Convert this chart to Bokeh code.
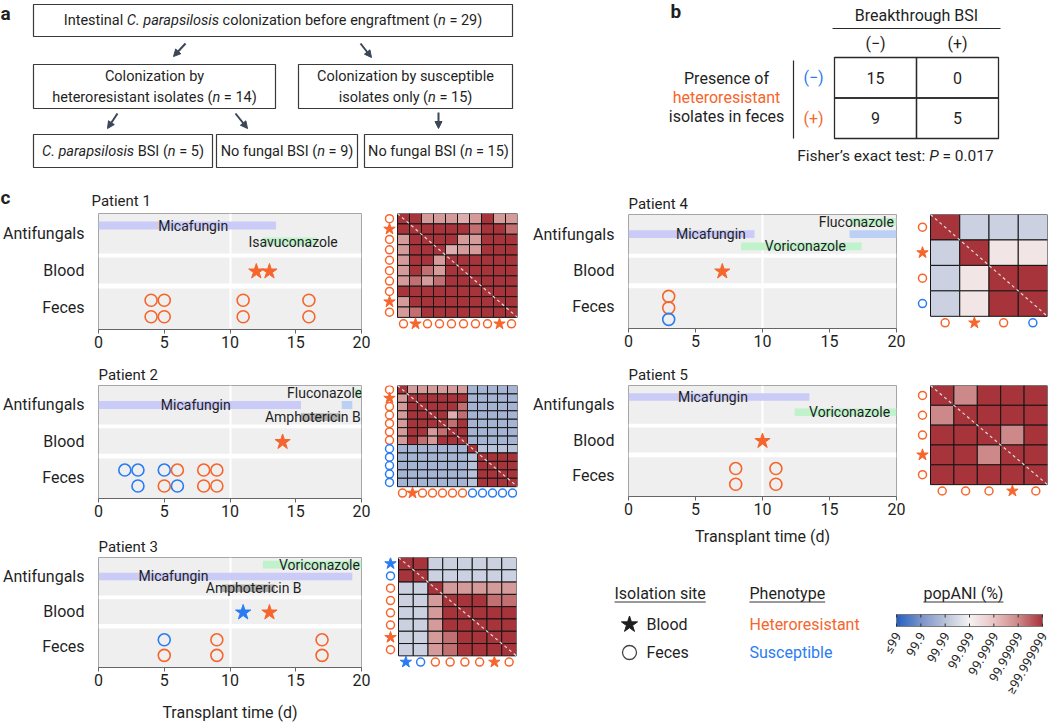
import glob, os, math
import numpy as np
from bokeh.plotting import figure
from bokeh.layouts import row, column
from bokeh.models import (Range1d, FixedTicker, LinearColorMapper, BoxAnnotation,
                          Arrow, NormalHead, ColumnDataSource)
from bokeh.core.properties import value
from bokeh.embed import file_html
from bokeh.resources import INLINE

FONT = "Roboto"
INK = "#1f1f1f"
ORANGE = "#f6652c"
BLUE = "#2a7cf3"
PHENO_COLOR = {"H": ORANGE, "S": BLUE}

# ======================= DATA =======================
# (a) cohort flow
n_colonized = 29
n_hetero = 14
n_susceptible_only = 15
n_hetero_bsi = 5
n_hetero_no_bsi = 9
n_susceptible_no_bsi = 15

# (b) contingency table
bsi_levels = ["(−)", "(+)"]
hetero_levels = ["(−)", "(+)"]
contingency = [[15, 0], [9, 5]]
fisher_p = "0.017"

# (c) timelines: antifungal courses (drug, start day, end day, lane top->bottom, day where name is written)
p1_af_drug = ["Micafungin", "Isavuconazole"]
p1_af_start = [0, 12.5]
p1_af_end = [13.5, 16.6]
p1_af_lane = [0, 1]
p1_af_label = [7.2, 14.8]

p2_af_drug = ["Fluconazole", "Micafungin", "Other", "Amphotericin B"]
p2_af_start = [19.5, 0, 18.5, 15.4]
p2_af_end = [20, 15.4, 19.3, 18.4]
p2_af_lane = [0, 1, 1, 2]
p2_af_label = [17.2, 7.4, None, 16.3]

p3_af_drug = ["Voriconazole", "Micafungin", "Amphotericin B"]
p3_af_start = [12.5, 0, 9.4]
p3_af_end = [20, 19.3, 13.4]
p3_af_lane = [0, 1, 2]
p3_af_label = [16.8, 5.7, 11.8]

p4_af_drug = ["Fluconazole", "Micafungin", "Other", "Voriconazole"]
p4_af_start = [16.5, 0, 16.5, 8.4]
p4_af_end = [20, 9.4, 20, 17.4]
p4_af_lane = [0, 1, 1, 2]
p4_af_label = [17.0, 6.15, None, 13.2]

p5_af_drug = ["Micafungin", "Voriconazole"]
p5_af_start = [0, 12.4]
p5_af_end = [13.5, 20]
p5_af_lane = [0, 1]
p5_af_label = [6.3, 16.5]

# isolates: day and phenotype (H heteroresistant, S susceptible)
p1_fec_day = [4, 4, 5, 5, 11, 11, 16, 16]
p1_fec_phe = ["H", "H", "H", "H", "H", "H", "H", "H"]
p1_bld_day = [12, 13]
p1_bld_phe = ["H", "H"]

p2_fec_day = [2, 3, 3, 5, 5, 6, 6, 8, 8, 9, 9]
p2_fec_phe = ["S", "S", "S", "S", "H", "H", "S", "H", "H", "H", "H"]
p2_bld_day = [14]
p2_bld_phe = ["H"]

p3_fec_day = [5, 5, 9, 9, 17, 17]
p3_fec_phe = ["S", "H", "H", "H", "H", "H"]
p3_bld_day = [11, 13]
p3_bld_phe = ["S", "H"]

p4_fec_day = [3, 3, 3]
p4_fec_phe = ["H", "H", "S"]
p4_bld_day = [7]
p4_bld_phe = ["H"]

p5_fec_day = [8, 8, 11, 11]
p5_fec_phe = ["H", "H", "H", "H"]
p5_bld_day = [10]
p5_bld_phe = ["H"]

# pairwise popANI (%) matrices, isolate order: site (F feces / B blood) and phenotype
D = 99.9999995   # >= 99.999999
M = 99.999995
Lp = 99.99999
L = 99.99998
Lb = 99.99996
W = 99.9995
B3 = 99.995
B2b = 99.99
B2 = 99.98

p1_iso_site = ["F", "B", "F", "F", "F", "F", "F", "F", "B", "F"]
p1_iso_phe = ["H", "H", "H", "H", "H", "H", "H", "H", "H", "H"]
p1_popani = [
    [D, D, L, L, L, Lb, L, D, L, L],
    [D, D, D, D, D, D, M, D, D, M],
    [L, D, D, D, D, L, L, D, D, D],
    [L, D, D, D, Lb, L, L, D, D, D],
    [L, D, D, L, D, D, D, D, D, D],
    [L, D, M, L, D, D, D, D, D, D],
    [L, M, L, M, D, D, D, D, D, D],
    [D, D, D, D, D, D, D, D, D, D],
    [L, D, D, D, D, D, D, D, D, D],
    [L, M, D, D, D, D, D, D, D, D],
]

p2_iso_site = ["F", "B", "F", "F", "F", "F", "F", "F", "F", "F", "F", "F"]
p2_iso_phe = ["H", "H", "H", "H", "H", "H", "H", "S", "S", "S", "S", "S"]
p2_popani = [
    [D, L, L, L, L, L, L, B2, B2, B2, B2, B2],
    [L, D, D, D, D, D, D, B2, B2, B2, B2, B2],
    [L, D, D, D, D, D, M, B2, B2, B2, B2, B2],
    [L, D, D, D, D, Lb, M, B2, B2, B2, B2, B2],
    [L, D, D, D, D, M, D, B2, B2, B2, B2, B2],
    [L, D, D, L, M, D, D, B2, B2, B2, B2, B2],
    [L, D, M, L, D, D, D, B2, B2, B2, B2, B2],
    [B2, B2, B2, B2, B2, B2, B2, D, B2b, B2b, B2b, B2b],
    [B2, B2, B2, B2, B2, B2, B2, B2b, D, D, D, D],
    [B2, B2, B2, B2, B2, B2, B2, B2b, D, D, D, D],
    [B2, B2, B2, B2, B2, B2, B2, B2b, D, D, D, D],
    [B2, B2, B2, B2, B2, B2, B2, B2b, D, D, D, D],
]

p3_iso_site = ["B", "F", "F", "F", "F", "F", "B", "F"]
p3_iso_phe = ["S", "S", "H", "H", "H", "H", "H", "H"]
p3_popani = [
    [D, D, B3, B3, B3, B3, B3, B3],
    [D, D, B3, B3, B3, B3, B3, B3],
    [B3, B3, D, L, L, L, L, L],
    [B3, B3, L, D, D, D, M, M],
    [B3, B3, L, D, D, D, D, D],
    [B3, B3, L, D, D, D, D, D],
    [B3, B3, L, M, D, D, D, D],
    [B3, B3, L, M, D, D, D, D],
]

p4_iso_site = ["F", "B", "F", "F"]
p4_iso_phe = ["H", "H", "H", "S"]
p4_popani = [
    [D, B3, B3, B3],
    [B3, D, W, W],
    [B3, W, D, D],
    [B3, W, D, D],
]

p5_iso_site = ["F", "F", "F", "B", "F"]
p5_iso_phe = ["H", "H", "H", "H", "H"]
p5_popani = [
    [D, Lp, D, D, D],
    [Lp, D, D, D, D],
    [D, D, D, Lp, D],
    [D, D, Lp, D, D],
    [D, D, D, D, D],
]

x_ticks = [0, 5, 10, 15, 20]
cb_levels = [0, 1, 2, 3, 4, 5, 6]
cb_labels = ["≤99", "99.9", "99.99", "99.999", "99.9999", "99.99999", "≥99.999999"]

# ======================= STYLE =======================
AF_COLOR = {"Micafungin": "#cacbf6", "Isavuconazole": "#c0f2cc", "Voriconazole": "#c0f2cc",
            "Fluconazole": "#c0f2cc", "Amphotericin B": "#b3b3b3", "Other": "#bcd0f6"}
CB_ANCHORS = ["#2660c2", "#7a94c9", "#b8c2d8", "#f5f3f3", "#e9c4c4", "#cd8a8a", "#a8343b"]


def make_palette(n=256):
    rgb = [tuple(int(c[i:i + 2], 16) for i in (1, 3, 5)) for c in CB_ANCHORS]
    out = []
    for t in np.linspace(0, len(rgb) - 1, n):
        k = min(int(t), len(rgb) - 2)
        f = t - k
        out.append("#%02x%02x%02x" % tuple(int(round(rgb[k][j] * (1 - f) + rgb[k + 1][j] * f)) for j in range(3)))
    return out


PALETTE = make_palette()
MAPPER = LinearColorMapper(palette=PALETTE, low=0, high=6)


def popani_level(v):
    return float(min(6.0, max(0.0, -math.log10(100.0 - v))))


# ---------- text measurement ----------
_FONT_FILES = []
for _d in ["/usr/share/fonts", "/usr/local/share/fonts",
           os.path.expanduser("~/.fonts"), os.path.expanduser("~/.local/share/fonts")]:
    if os.path.isdir(_d):
        for _ext in ("ttf", "otf", "TTF"):
            _FONT_FILES += glob.glob(os.path.join(_d, "**", "*." + _ext), recursive=True)


def _pick(prefixes):
    for pre in prefixes:
        c = sorted(f for f in _FONT_FILES if os.path.basename(f).startswith(pre))
        if c:
            return c[0]
    return None


_FONT_PATHS = {"normal": _pick(["Roboto-Regular.", "Roboto[", "Roboto-Regular"]),
               "italic": _pick(["Roboto-Italic.", "Roboto-Italic["]),
               "bold": _pick(["Roboto-Bold."])}
try:
    from PIL import ImageFont
except Exception:
    ImageFont = None
_cache = {}


def measure(text, size, style="normal"):
    path = _FONT_PATHS.get(style) or _FONT_PATHS.get("normal")
    if ImageFont is not None and path:
        key = (path, size)
        if key not in _cache:
            try:
                _cache[key] = ImageFont.truetype(path, int(round(size * 10)))
            except Exception:
                _cache[key] = None
        f = _cache[key]
        if f is not None:
            return f.getlength(text) / 10.0
    return 0.5 * size * len(text)


def put_text(p, x, y, text, size, color=INK, align="center", style="normal", baseline="middle"):
    p.text(x=[x], y=[y], text=[text], text_align=align, text_baseline=baseline,
           text_font=value(FONT), text_font_size=f"{size}px", text_font_style=style, text_color=color)


def rich_text(p, segs, x, y, size, color=INK):
    widths = [measure(s, size, st) for s, st in segs]
    x0 = x - sum(widths) / 2.0
    for (s, st), wd in zip(segs, widths):
        lead = len(s) - len(s.lstrip(" "))
        xs = x0 + (measure(" " * lead, size, st) if lead else 0)
        put_text(p, xs, y, s.strip(" "), size, color, align="left", style=st)
        x0 += wd


def blank_fig(w, h, xr, yr):
    return figure(width=w, height=h, x_range=xr, y_range=yr, x_axis_type=None, y_axis_type=None,
                  min_border=0, outline_line_color=None, output_backend="svg", toolbar_location=None)


# ======================= PANEL a =======================
pa = blank_fig(600, 185, Range1d(0, 600), Range1d(185, 0))
FLOW_BOXES = [(33, 4, 512, 36), (33, 64, 275, 108), (298, 64, 512, 108),
              (33, 134, 212, 167), (216, 134, 357, 167), (364, 134, 512, 167)]
pa.quad(left=[b[0] for b in FLOW_BOXES], right=[b[2] for b in FLOW_BOXES],
        top=[b[1] for b in FLOW_BOXES], bottom=[b[3] for b in FLOW_BOXES],
        fill_color=None, line_color="#3a3a3a", line_width=1.2)
N, I = "normal", "italic"
flow_text = [
    [[("Intestinal ", N), ("C. parapsilosis", I), (" colonization before engraftment (", N), ("n", I), (f" = {n_colonized})", N)]],
    [[("Colonization by", N)], [("heteroresistant isolates (", N), ("n", I), (f" = {n_hetero})", N)]],
    [[("Colonization by susceptible", N)], [("isolates only (", N), ("n", I), (f" = {n_susceptible_only})", N)]],
    [[("C. parapsilosis", I), (" BSI (", N), ("n", I), (f" = {n_hetero_bsi})", N)]],
    [[("No fungal BSI (", N), ("n", I), (f" = {n_hetero_no_bsi})", N)]],
    [[("No fungal BSI (", N), ("n", I), (f" = {n_susceptible_no_bsi})", N)]],
]
for box, lines in zip(FLOW_BOXES, flow_text):
    cx = (box[0] + box[2]) / 2.0
    cy = (box[1] + box[3]) / 2.0
    offs = [0] if len(lines) == 1 else [-10.5, 10.5]
    for segs, o in zip(lines, offs):
        rich_text(pa, segs, cx, cy + o, 14.5)
ARROW_C = "#3b4757"
for (x0, y0, x1, y1) in [(185, 43, 173, 56), (360, 43, 371, 57), (117, 113, 107, 128),
                         (235, 113, 247, 128), (438, 112, 438, 128)]:
    pa.add_layout(Arrow(end=NormalHead(size=7, fill_color=ARROW_C, line_color=ARROW_C),
                        x_start=x0, y_start=y0, x_end=x1, y_end=y1,
                        line_color=ARROW_C, line_width=2))
put_text(pa, 0, 13, "a", 19, align="left", style="bold")

# ======================= PANEL b =======================
pb = blank_fig(450, 185, Range1d(600, 1050), Range1d(185, 0))
TX0, TY0, CW, CH = 834, 57, 82, 40.5
cx_, cy_, ct_ = [], [], []
for i, rv in enumerate(contingency):
    for j, v in enumerate(rv):
        cx_.append(TX0 + (j + 0.5) * CW)
        cy_.append(TY0 + (i + 0.5) * CH)
        ct_.append(str(v))
pb.rect(x=cx_, y=cy_, width=CW, height=CH, fill_color=None, line_color="#2a2a2a", line_width=1.3)
pb.text(x=cx_, y=cy_, text=ct_, text_align="center", text_baseline="middle",
        text_font=value(FONT), text_font_size="16px", text_color=INK)
put_text(pb, TX0 + CW, 15, "Breakthrough BSI", 16)
pb.segment(x0=[TX0 - 2], y0=[28], x1=[TX0 + 2 * CW + 2], y1=[28], line_color="#2a2a2a", line_width=1.2)
for j, lab in enumerate(bsi_levels):
    put_text(pb, TX0 + (j + 0.5) * CW, 43, lab, 16)
for i, (lab, col) in enumerate(zip(hetero_levels, [BLUE, ORANGE])):
    put_text(pb, 813, TY0 + (i + 0.5) * CH, lab, 16, color=col)
pb.segment(x0=[793], y0=[60], x1=[793], y1=[TY0 + 2 * CH], line_color="#2a2a2a", line_width=1.2)
put_text(pb, 726, 78, "Presence of", 16)
put_text(pb, 726, 97, "heteroresistant", 16, color=ORANGE)
put_text(pb, 726, 116, "isolates in feces", 16)
rich_text(pb, [("Fisher’s exact test: ", N), ("P", I), (f" = {fisher_p}", N)], 895, 155, 15.5)
put_text(pb, 670, 11, "b", 19, align="left", style="bold")

# ======================= PANEL c =======================
ROWS = ["Feces", "Blood", "Antifungals"]
BANDS = [(0, 41), (46, 72), (76, 116)]
ROW_LABEL_Y = {"Feces": 22, "Blood": 59, "Antifungals": 96}


def lane_y(lane, n):
    gap = 16.0 if n <= 2 else 12.5
    return 96 + gap * ((n - 1) / 2.0 - lane)


def timeline(title, w, h, bl, br, bt, bb, af, fec_day, fec_phe, bld_day, bld_phe,
             xlabel=None, xlabel_standoff=0, title_standoff=4):
    af_drug, af_start, af_end, af_lane, af_label = af
    p = figure(width=w, height=h, x_range=Range1d(0, 20), y_range=Range1d(0, 116),
               output_backend="svg", toolbar_location=None,
               min_border_left=bl, min_border_right=br, min_border_top=bt, min_border_bottom=bb,
               background_fill_color="#efefef", outline_line_color="#a6a6a6", title=title)
    if p.title is not None:
        p.title.text_font = FONT
        p.title.text_font_size = "15px"
        p.title.text_font_style = "normal"
        p.title.text_color = INK
        p.title.align = "left"
        p.title.standoff = title_standoff
    xa = p.xaxis[0]
    xa.ticker = FixedTicker(ticks=x_ticks)
    xa.major_label_text_font = FONT
    xa.major_label_text_font_size = "16px"
    xa.major_label_text_color = INK
    xa.major_tick_out = 4
    xa.major_tick_in = 0
    xa.minor_tick_line_color = None
    xa.axis_line_color = "#666666"
    xa.major_tick_line_color = "#666666"
    xa.major_label_standoff = 2
    if xlabel:
        xa.axis_label = xlabel
        xa.axis_label_text_font = FONT
        xa.axis_label_text_font_size = "16px"
        xa.axis_label_text_font_style = "normal"
        xa.axis_label_text_color = INK
        xa.axis_label_standoff = xlabel_standoff
    ya = p.yaxis[0]
    ya.ticker = FixedTicker(ticks=[ROW_LABEL_Y[r] for r in ROWS])
    ya.major_label_overrides = {ROW_LABEL_Y[r]: r for r in ROWS}
    ya.major_label_text_font = FONT
    ya.major_label_text_font_size = "16px"
    ya.major_label_text_color = INK
    ya.major_tick_line_color = None
    ya.minor_tick_line_color = None
    ya.axis_line_color = None
    ya.major_label_standoff = 8
    p.ygrid.grid_line_color = None
    p.xgrid.ticker = FixedTicker(ticks=[10])
    p.xgrid.grid_line_color = "white"
    p.xgrid.grid_line_width = 2
    for (a0, a1), (b0, b1) in zip(BANDS[:-1], BANDS[1:]):
        p.add_layout(BoxAnnotation(bottom=a1, top=b0, fill_color="white", fill_alpha=1,
                                   line_color=None, level="underlay"))
    # antifungal courses
    n_lanes = max(af_lane) + 1
    ly = [lane_y(l, n_lanes) for l in af_lane]
    p.hbar(y=ly, left=af_start, right=af_end, height=8,
           fill_color=[AF_COLOR[d] for d in af_drug], line_color=None)
    lab = [(d, x, y) for d, x, y in zip(af_drug, af_label, ly) if x is not None]
    p.text(x=[t[1] for t in lab], y=[t[2] for t in lab], text=[t[0] for t in lab],
           text_align="center", text_baseline="middle", text_font=value(FONT),
           text_font_size="14px", text_color=INK)
    # feces isolates, stacked per day
    seen, ks = {}, []
    for d in fec_day:
        k = seen.get(d, 0)
        ks.append(k)
        seen[d] = k + 1
    nr = max(seen.values())
    gap = 41.0 / (nr + 0.5)
    fy = [21 + gap * ((nr - 1) / 2.0 - k) for k in ks]
    p.scatter(x=fec_day, y=fy, marker="circle", size=12, fill_color=None,
              line_color=[PHENO_COLOR[c] for c in fec_phe], line_width=1.6)
    cols = [PHENO_COLOR[c] for c in bld_phe]
    p.scatter(x=bld_day, y=[58] * len(bld_day), marker="star", size=16,
              fill_color=cols, line_color=cols)
    return p


def heatmap(fx, fy, w, h, hx, hy, size, sites, phes, mat):
    n = len(sites)
    c = size / float(n)
    ML, MB = 16, 14
    p = figure(width=w, height=h, x_range=Range1d(-ML / c, n), y_range=Range1d(n + MB / c, 0),
               x_axis_type=None, y_axis_type=None, output_backend="svg", toolbar_location=None,
               min_border_left=int(hx - ML - fx), min_border_right=int(fx + w - hx - size),
               min_border_top=int(hy - fy), min_border_bottom=int(fy + h - hy - size - MB),
               outline_line_color=None)
    xs, ys, lv = [], [], []
    for i, rv in enumerate(mat):
        for j, v in enumerate(rv):
            xs.append(j + 0.5)
            ys.append(i + 0.5)
            lv.append(popani_level(v))
    src = ColumnDataSource(dict(x=xs, y=ys, level=lv))
    p.rect(x="x", y="y", width=1, height=1, source=src,
           fill_color={"field": "level", "transform": MAPPER}, line_color="#151515", line_width=1)
    p.segment(x0=[0], y0=[0], x1=[n], y1=[n], line_color="#dcdcdc", line_dash="3 3", line_width=1.2)
    pos = [i + 0.5 for i in range(n)]
    for site in ("F", "B"):
        idx = [i for i, s in enumerate(sites) if s == site]
        if not idx:
            continue
        cl = [PHENO_COLOR[phes[i]] for i in idx]
        kw = (dict(marker="circle", size=8, fill_color=None, line_color=cl, line_width=1.5)
              if site == "F" else dict(marker="star", size=12, fill_color=cl, line_color=cl))
        p.scatter(x=[-8.0 / c] * len(idx), y=[pos[i] for i in idx], **kw)
        p.scatter(x=[pos[i] for i in idx], y=[n + 7.5 / c] * len(idx), **kw)
    return p


# header strip of panel c (panel letter + first patient title)
strip = blank_fig(530, 23, Range1d(0, 530), Range1d(208, 185))
put_text(strip, 0, 196.5, "c", 19, align="left", style="bold")
put_text(strip, 91, 200, "Patient 1", 15, align="left")

t1 = timeline(None, 375, 145, 91, 14, 5, 24,
              (p1_af_drug, p1_af_start, p1_af_end, p1_af_lane, p1_af_label),
              p1_fec_day, p1_fec_phe, p1_bld_day, p1_bld_phe)
t2 = timeline("Patient 2", 375, 170, 91, 14, 32, 25,
              (p2_af_drug, p2_af_start, p2_af_end, p2_af_lane, p2_af_label),
              p2_fec_day, p2_fec_phe, p2_bld_day, p2_bld_phe)
t3 = timeline("Patient 3", 375, 201, 91, 14, 34, 53,
              (p3_af_drug, p3_af_start, p3_af_end, p3_af_lane, p3_af_label),
              p3_fec_day, p3_fec_phe, p3_bld_day, p3_bld_phe,
              xlabel="Transplant time (d)", xlabel_standoff=14)
t4 = timeline("Patient 4", 376, 168, 95, 10, 29, 25,
              (p4_af_drug, p4_af_start, p4_af_end, p4_af_lane, p4_af_label),
              p4_fec_day, p4_fec_phe, p4_bld_day, p4_bld_phe)
t5 = timeline("Patient 5", 376, 195, 95, 10, 32, 49,
              (p5_af_drug, p5_af_start, p5_af_end, p5_af_lane, p5_af_label),
              p5_fec_day, p5_fec_phe, p5_bld_day, p5_bld_phe,
              xlabel="Transplant time (d)", xlabel_standoff=9)

h1 = heatmap(375, 208, 155, 145, 397, 212, 120, p1_iso_site, p1_iso_phe, p1_popani)
h2 = heatmap(375, 353, 155, 170, 397, 383, 120, p2_iso_site, p2_iso_phe, p2_popani)
h3 = heatmap(375, 523, 155, 201, 398, 554, 118, p3_iso_site, p3_iso_phe, p3_popani)
h4 = heatmap(906, 185, 144, 168, 930, 213, 117, p4_iso_site, p4_iso_phe, p4_popani)
h5 = heatmap(906, 353, 144, 195, 930, 384, 117, p5_iso_site, p5_iso_phe, p5_popani)

# ======================= LEGEND =======================
lg = blank_fig(350, 176, Range1d(530, 880), Range1d(724, 548))
for head, x in [("Isolation site", 614), ("Phenotype", 749)]:
    put_text(lg, x, 593, head, 16, align="left")
    lg.segment(x0=[x], y0=[601.5], x1=[x + measure(head, 16)], y1=[601.5], line_color="#333333", line_width=1)
lg.scatter(x=[629], y=[624], marker="star", size=17, fill_color=INK, line_color=INK)
lg.scatter(x=[629], y=[652], marker="circle", size=14, fill_color=None, line_color="#444444", line_width=1.3)
lg.text(x=[646, 646], y=[624, 652], text=["Blood", "Feces"], text_align="left", text_baseline="middle",
        text_font=value(FONT), text_font_size="16px", text_color=INK)
lg.text(x=[749, 749], y=[624, 652], text=["Heteroresistant", "Susceptible"], text_align="left",
        text_baseline="middle", text_font=value(FONT), text_font_size="16px", text_color=[ORANGE, BLUE])

CB_PX = (1042 - 896) / 6.0
cb = blank_fig(170, 176, Range1d((880 - 896) / CB_PX, (1050 - 896) / CB_PX), Range1d(724, 548))
put_text(cb, 2.75, 593, "popANI (%)", 16)
hw = measure("popANI (%)", 16) / CB_PX
cb.segment(x0=[2.75 - hw / 2], y0=[601.5], x1=[2.75 + hw / 2], y1=[601.5], line_color="#333333", line_width=1)
grad = np.linspace(cb_levels[0], cb_levels[-1], 300).reshape(1, -1)
cb.image(image=[grad], x=cb_levels[0], y=614, dw=cb_levels[-1] - cb_levels[0], dh=12, color_mapper=MAPPER)
cb.quad(left=[cb_levels[0]], right=[cb_levels[-1]], top=[614], bottom=[626], fill_color=None,
        line_color="#7a7a7a", line_width=1)
cb.segment(x0=cb_levels, y0=[614] * len(cb_levels), x1=cb_levels, y1=[617] * len(cb_levels),
           line_color="#333333", line_width=1)
cb.segment(x0=cb_levels, y0=[623] * len(cb_levels), x1=cb_levels, y1=[626] * len(cb_levels),
           line_color="#333333", line_width=1)
cb.text(x=[v + 0.06 for v in cb_levels], y=[633] * len(cb_levels), text=cb_labels,
        angle=math.radians(60), text_align="right", text_baseline="middle",
        text_font=value(FONT), text_font_size="13px", text_color=INK)

# ======================= LAYOUT =======================
left = column(strip, row(t1, h1), row(t2, h2), row(t3, h3))
right = column(row(t4, h4), row(t5, h5), row(lg, cb))
layout = column(row(pa, pb), row(left, right))

html = file_html(layout, INLINE, title="Heteroresistant C. parapsilosis")
html = html.replace("<head>", "<head><style>html,body{margin:0;padding:0;overflow:hidden;}</style>", 1)
with open("out.html", "w") as fh:
    fh.write(html)
